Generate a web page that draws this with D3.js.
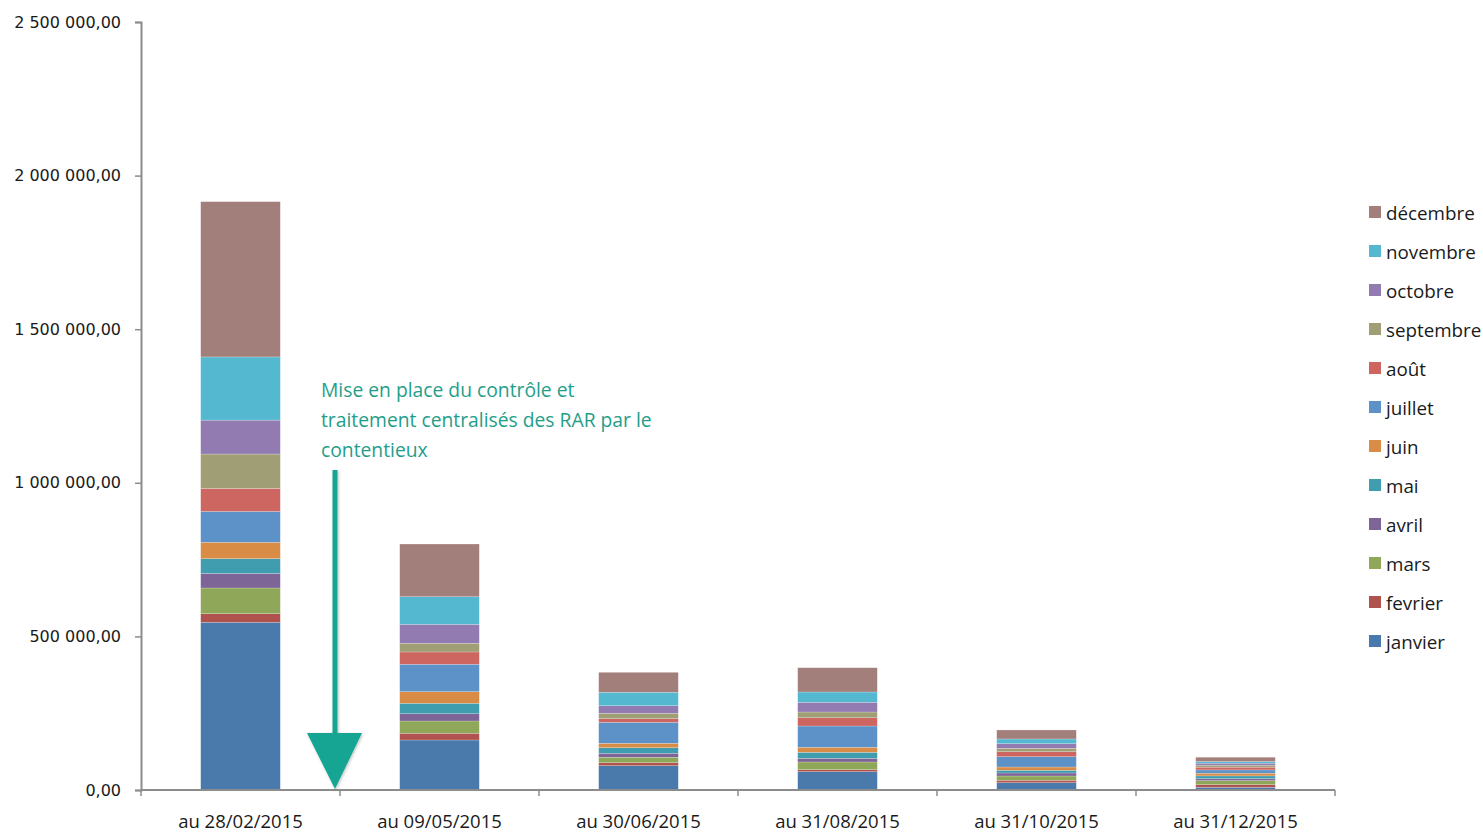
<!DOCTYPE html>
<html lang="fr">
<head>
<meta charset="utf-8">
<script src="https://cdn.jsdelivr.net/npm/d3@7"></script>
<style>
  html, body { margin: 0; padding: 0; background: #fff; }
  svg { display: block; }
</style>
</head>
<body>
<svg id="chart" width="1483" height="832"></svg>
<script>
// Dates de situation des restes à recouvrer
const categories = ["au 28/02/2015", "au 09/05/2015", "au 30/06/2015", "au 31/08/2015", "au 31/10/2015", "au 31/12/2015"];

// Mois d'origine, du bas vers le haut de la pile
const months = ["janvier", "fevrier", "mars", "avril", "mai", "juin", "juillet", "août", "septembre", "octobre", "novembre", "décembre"];
const monthColors = ["#4a7aab", "#b0524d", "#8ea758", "#7e6598", "#409caf", "#d98c45", "#5d92c8", "#cd6560", "#a09e75", "#917bb1", "#53b8d0", "#a37f7b"];

// Montants restant à recouvrer par mois, pour chaque date
const janvier   = [545900, 162800, 79100, 59600, 23800, 8800];
const fevrier   = [28000, 21800, 9800, 6500, 7800, 8800];
const mars      = [83700, 40000, 17600, 25100, 14000, 13000];
const avril     = [47200, 23800, 13000, 12000, 9800, 6500];
const mai       = [48200, 33900, 18200, 19500, 8800, 8800];
const juin      = [53400, 37800, 14300, 16300, 10700, 8800];
const juillet   = [100300, 89200, 68400, 69300, 33500, 10700];
const aout      = [74900, 40000, 11700, 27000, 16300, 8800];
const septembre = [112000, 28300, 17600, 18600, 11100, 6500];
const octobre   = [110400, 61800, 24700, 31600, 15000, 6500];
const novembre  = [205700, 89800, 43600, 33500, 15300, 5500];
const decembre  = [505500, 171500, 65100, 79100, 29300, 14000];

const yTicks = [0, 500000, 1000000, 1500000, 2000000, 2500000];
const noteLines = ["Mise en place du contrôle et", "traitement centralisés des RAR par le", "contentieux"];

const monthValues = [janvier, fevrier, mars, avril, mai, juin, juillet, aout, septembre, octobre, novembre, decembre];
const table = categories.map((c, i) => {
  const row = { date: c };
  months.forEach((m, j) => { row[m] = monthValues[j][i]; });
  return row;
});

const svg = d3.select("#chart");
const margin = { left: 141, right: 148, top: 22, bottom: 42 };
const W = 1483, H = 832;
const innerRight = W - margin.right;
const baseY = H - margin.bottom;

const x = d3.scaleBand().domain(categories).range([margin.left, innerRight]).paddingInner(0.6).paddingOuter(0.3);
const xTickScale = d3.scaleLinear().domain([0, categories.length]).range([margin.left, innerRight]);
const y = d3.scaleLinear().domain([0, 2500000]).range([baseY, margin.top]);

const fr = d3.formatLocale({ decimal: ",", thousands: "\u00a0", grouping: [3], currency: ["", " €"] });
const fmt = fr.format(",.2f");

const stack = d3.stack().keys(months);
const series = stack(table);

// Barres empilées
const g = svg.append("g");
g.selectAll("g.serie")
  .data(series)
  .join("g")
  .attr("class", "serie")
  .attr("fill", (d, i) => monthColors[i])
  .selectAll("rect")
  .data(d => d)
  .join("rect")
  .attr("x", d => x(d.data.date))
  .attr("width", x.bandwidth())
  .attr("y", d => y(d[1]))
  .attr("height", d => y(d[0]) - y(d[1]))
  .attr("stroke", "rgba(255,255,255,0.35)")
  .attr("stroke-width", 0.6);

// Axe vertical
const yAxis = d3.axisLeft(y).tickValues(yTicks).tickFormat(fmt).tickSize(6).tickPadding(14);
const ya = svg.append("g").attr("transform", `translate(${margin.left},0)`).call(yAxis);
ya.select(".domain").attr("stroke", "#8c8c8c").attr("stroke-width", 2);
ya.selectAll(".tick line").attr("stroke", "#8c8c8c").attr("stroke-width", 1.5);
ya.selectAll(".tick text")
  .attr("fill", "#1a1a1a")
  .style("font-family", "'DejaVu Sans', Verdana, sans-serif")
  .style("font-size", "16px");

// Axe horizontal
const xa = svg.append("g");
xa.append("line")
  .attr("x1", margin.left).attr("x2", innerRight)
  .attr("y1", baseY).attr("y2", baseY)
  .attr("stroke", "#8c8c8c").attr("stroke-width", 2);
xa.selectAll("line.tk")
  .data(d3.range(categories.length + 1))
  .join("line")
  .attr("class", "tk")
  .attr("x1", d => xTickScale(d)).attr("x2", d => xTickScale(d))
  .attr("y1", baseY).attr("y2", baseY + 6)
  .attr("stroke", "#8c8c8c").attr("stroke-width", 1.5);
xa.selectAll("text")
  .data(categories)
  .join("text")
  .attr("x", d => x(d) + x.bandwidth() / 2)
  .attr("y", baseY + 38)
  .attr("text-anchor", "middle")
  .attr("fill", "#1a1a1a")
  .style("font-family", "'Open Sans', Lato, sans-serif")
  .style("font-size", "18.5px")
  .text(d => d);

// Légende (ordre inverse : décembre en haut)
const legend = svg.append("g").attr("transform", "translate(1369,206)");
const legendItems = months.map((m, i) => ({ m, c: monthColors[i] })).reverse();
const li = legend.selectAll("g").data(legendItems).join("g")
  .attr("transform", (d, i) => `translate(0,${i * 39})`);
li.append("rect").attr("width", 12).attr("height", 12).attr("fill", d => d.c);
li.append("text")
  .attr("x", 17).attr("y", 14)
  .attr("fill", "#1a1a1a")
  .style("font-family", "'Open Sans', Lato, sans-serif")
  .style("font-size", "18.8px")
  .text(d => d.m);

// Annotation et flèche
const teal = "#13a593";
const note = svg.append("g");
note.selectAll("text").data(noteLines).join("text")
  .attr("x", 321)
  .attr("y", (d, i) => 397 + i * 30)
  .attr("fill", "#1f9e8a")
  .style("font-family", "'Open Sans', Lato, sans-serif")
  .style("font-size", "19.3px")
  .text(d => d);

const defs = svg.append("defs");
const f = defs.append("filter").attr("id", "sh")
  .attr("filterUnits", "userSpaceOnUse")
  .attr("x", 280).attr("y", 450).attr("width", 120).attr("height", 360);
f.append("feDropShadow").attr("dx", 1).attr("dy", 1).attr("stdDeviation", 1.5).attr("flood-color", "#000").attr("flood-opacity", 0.25);

const ax = 335;
note.append("rect")
  .attr("x", ax - 2.5).attr("width", 5)
  .attr("y", 470).attr("height", 268)
  .attr("fill", teal)
  .attr("filter", "url(#sh)");
note.append("path")
  .attr("d", `M${ax - 28},733 L${ax + 27},733 L${ax},${baseY - 1} Z`)
  .attr("fill", teal)
  .attr("filter", "url(#sh)");
</script>
</body>
</html>
